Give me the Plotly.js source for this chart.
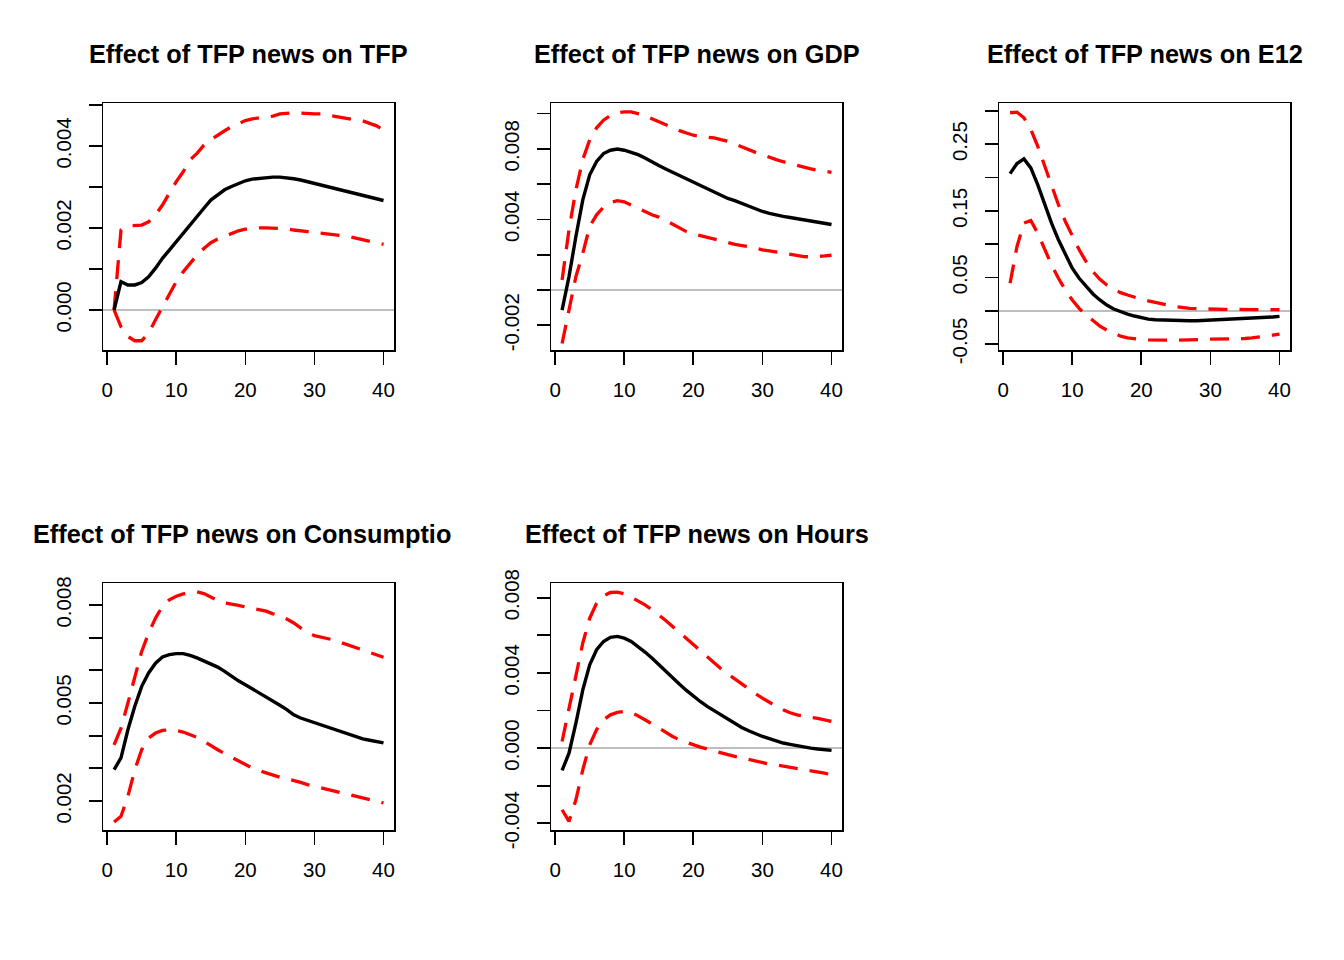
<!DOCTYPE html>
<html>
<head>
<meta charset="utf-8">
<script src="https://cdn.plot.ly/plotly-3.0.1.min.js"></script>
<style>html,body{margin:0;padding:0;background:#fff;}#chart{width:1344px;height:960px;}</style>
</head>
<body>
<div id="chart"></div>
<script>
// ---------------- DATA ----------------
const horizon = Array.from({length: 40}, (_, i) => i + 1);

const titles = [
  "Effect of TFP news on TFP",
  "Effect of TFP news on GDP",
  "Effect of TFP news on E12",
  "Effect of TFP news on Consumptio",
  "Effect of TFP news on Hours"
];

// TFP
const tfpMid = [0.0000,0.00069,0.00061,0.00061,0.00067,0.00081,0.00102,0.00126,0.00146,0.00167,
  0.00187,0.00207,0.00228,0.00248,0.00268,0.00280,0.00293,0.00301,0.00309,0.00315,
  0.00319,0.00321,0.00324,0.00324,0.00324,0.00323,0.00320,0.00317,0.00313,0.00307,
  0.00303,0.00299,0.00295,0.00291,0.00288,0.00285,0.00280,0.00276,0.00272,0.00267];
const tfpUpper = [0.0000,0.00195,0.00205,0.00205,0.00207,0.00215,0.00232,0.00256,0.00285,0.00313,
  0.00337,0.00366,0.00382,0.00402,0.00415,0.00427,0.00437,0.00447,0.00455,0.00462,
  0.00466,0.00468,0.00470,0.00473,0.00478,0.00480,0.00481,0.00480,0.00478,0.00478,
  0.00478,0.00476,0.00472,0.00469,0.00467,0.00465,0.00461,0.00455,0.00449,0.00439];
const tfpLower = [0.0000,-0.00041,-0.00065,-0.00075,-0.00075,-0.00057,-0.00024,0.00008,0.00041,0.00069,
  0.00093,0.00114,0.00134,0.00150,0.00164,0.00173,0.00180,0.00187,0.00193,0.00197,
  0.00199,0.00200,0.00200,0.00200,0.00199,0.00198,0.00195,0.00194,0.00191,0.00189,
  0.00187,0.00186,0.00184,0.00183,0.00179,0.00175,0.00171,0.00167,0.00163,0.00160];

// GDP
const gdpMid = [-0.00114,0.00076,0.00303,0.00511,0.00653,0.00729,0.00773,0.00792,0.00799,0.00792,
  0.00780,0.00767,0.00748,0.00725,0.00705,0.00686,0.00667,0.00648,0.00629,0.00610,
  0.00591,0.00572,0.00553,0.00536,0.00519,0.00506,0.00491,0.00473,0.00458,0.00445,
  0.00434,0.00424,0.00417,0.00411,0.00405,0.00398,0.00392,0.00384,0.00379,0.00371];
const gdpUpper = [0.00057,0.00341,0.00568,0.00739,0.00852,0.00919,0.00962,0.00989,0.01004,0.01009,
  0.01009,0.01000,0.00989,0.00970,0.00953,0.00934,0.00919,0.00903,0.00890,0.00877,
  0.00871,0.00867,0.00862,0.00852,0.00843,0.00828,0.00811,0.00795,0.00780,0.00767,
  0.00752,0.00739,0.00727,0.00716,0.00705,0.00695,0.00686,0.00678,0.00672,0.00667];
const gdpLower = [-0.00303,-0.00114,0.00076,0.00208,0.00360,0.00426,0.00470,0.00496,0.00506,0.00500,
  0.00483,0.00464,0.00445,0.00426,0.00413,0.00394,0.00373,0.00350,0.00331,0.00318,
  0.00309,0.00299,0.00290,0.00280,0.00269,0.00259,0.00254,0.00246,0.00237,0.00227,
  0.00222,0.00216,0.00210,0.00203,0.00195,0.00189,0.00188,0.00189,0.00193,0.00197];

// E12
const e12Mid = [0.2058,0.2209,0.2279,0.2144,0.1893,0.1591,0.1315,0.1064,0.0838,0.0638,
  0.0487,0.0361,0.0251,0.0161,0.0085,0.0025,-0.0015,-0.0050,-0.0080,-0.0105,
  -0.0126,-0.0136,-0.0141,-0.0146,-0.0146,-0.0151,-0.0151,-0.0151,-0.0146,-0.0146,
  -0.0141,-0.0141,-0.0136,-0.0131,-0.0126,-0.0120,-0.0110,-0.0105,-0.0095,-0.0085];
const e12Upper = [0.2972,0.2982,0.2897,0.2721,0.2470,0.2169,0.1867,0.1591,0.1340,0.1114,
  0.0914,0.0738,0.0587,0.0472,0.0387,0.0321,0.0271,0.0236,0.0201,0.0171,
  0.0146,0.0120,0.0100,0.0080,0.0060,0.0045,0.0035,0.0030,0.0025,0.0025,
  0.0020,0.0020,0.0020,0.0020,0.0020,0.0020,0.0020,0.0020,0.0015,0.0015];
const e12Lower = [0.0412,0.0964,0.1315,0.1355,0.1165,0.0914,0.0688,0.0487,0.0311,0.0161,
  0.0035,-0.0065,-0.0156,-0.0231,-0.0291,-0.0341,-0.0382,-0.0407,-0.0422,-0.0432,
  -0.0437,-0.0442,-0.0442,-0.0442,-0.0442,-0.0442,-0.0437,-0.0432,-0.0432,-0.0427,
  -0.0427,-0.0427,-0.0427,-0.0422,-0.0417,-0.0407,-0.0397,-0.0382,-0.0367,-0.0351];

// Consumption
const consMid = [0.00296,0.00332,0.00418,0.00490,0.00551,0.00592,0.00622,0.00641,0.00648,0.00651,
  0.00651,0.00646,0.00638,0.00628,0.00619,0.00610,0.00597,0.00582,0.00568,0.00556,
  0.00544,0.00531,0.00517,0.00505,0.00493,0.00480,0.00464,0.00454,0.00447,0.00439,
  0.00432,0.00424,0.00417,0.00411,0.00405,0.00396,0.00390,0.00386,0.00383,0.00378];
const consUpper = [0.00372,0.00423,0.00500,0.00582,0.00658,0.00714,0.00760,0.00796,0.00816,0.00827,
  0.00834,0.00837,0.00840,0.00835,0.00824,0.00814,0.00806,0.00803,0.00799,0.00794,
  0.00789,0.00786,0.00781,0.00773,0.00767,0.00757,0.00745,0.00730,0.00716,0.00706,
  0.00701,0.00698,0.00692,0.00684,0.00677,0.00670,0.00663,0.00656,0.00648,0.00640];
const consLower = [0.00136,0.00153,0.00214,0.00296,0.00357,0.00393,0.00408,0.00416,0.00418,0.00416,
  0.00411,0.00403,0.00395,0.00383,0.00369,0.00357,0.00345,0.00334,0.00321,0.00311,
  0.00301,0.00293,0.00286,0.00279,0.00273,0.00268,0.00263,0.00257,0.00250,0.00245,
  0.00240,0.00235,0.00230,0.00224,0.00219,0.00214,0.00209,0.00204,0.00199,0.00194];

// Hours
const hoursMid = [-0.00119,-0.00027,0.00133,0.00310,0.00443,0.00523,0.00567,0.00589,0.00594,0.00585,
  0.00567,0.00541,0.00511,0.00479,0.00443,0.00408,0.00372,0.00340,0.00307,0.00275,
  0.00248,0.00222,0.00199,0.00174,0.00151,0.00129,0.00110,0.00092,0.00076,0.00062,
  0.00050,0.00037,0.00027,0.00020,0.00012,0.00005,0.00000,-0.00005,-0.00009,-0.00012];
const hoursUpper = [0.00035,0.00204,0.00390,0.00559,0.00691,0.00771,0.00810,0.00828,0.00830,0.00821,
  0.00803,0.00784,0.00762,0.00736,0.00709,0.00679,0.00647,0.00615,0.00582,0.00550,
  0.00518,0.00484,0.00452,0.00422,0.00394,0.00367,0.00340,0.00314,0.00289,0.00266,
  0.00243,0.00222,0.00204,0.00188,0.00177,0.00168,0.00163,0.00158,0.00151,0.00142];
const hoursLower = [-0.00328,-0.00390,-0.00275,-0.00115,0.00018,0.00098,0.00151,0.00177,0.00190,0.00195,
  0.00191,0.00172,0.00151,0.00129,0.00106,0.00083,0.00062,0.00044,0.00030,0.00018,
  0.00005,-0.00005,-0.00016,-0.00027,-0.00035,-0.00044,-0.00053,-0.00062,-0.00071,-0.00080,
  -0.00085,-0.00090,-0.00096,-0.00101,-0.00106,-0.00112,-0.00117,-0.00124,-0.00133,-0.00142];

// tick values / labels
const xTickVals = [0, 10, 20, 30, 40];
const xTickText = ["0", "10", "20", "30", "40"];
const tfpTickVals = [0, 0.001, 0.002, 0.003, 0.004, 0.005];
const tfpTickText = ["0.000", "", "0.002", "", "0.004", ""];
const gdpTickVals = [-0.002, 0, 0.002, 0.004, 0.006, 0.008, 0.010];
const gdpTickText = ["-0.002", "", "", "0.004", "", "0.008", ""];
const e12TickVals = [-0.05, 0, 0.05, 0.10, 0.15, 0.20, 0.25, 0.30];
const e12TickText = ["-0.05", "", "0.05", "", "0.15", "", "0.25", ""];
const consTickVals = [0.002, 0.003, 0.004, 0.005, 0.006, 0.007, 0.008];
const consTickText = ["0.002", "", "", "0.005", "", "", "0.008"];
const hoursTickVals = [-0.004, -0.002, 0, 0.002, 0.004, 0.006, 0.008];
const hoursTickText = ["-0.004", "", "0.000", "", "0.004", "", "0.008"];

// ---------------- PLOT ----------------
const W = 1344, H = 960;
const FONT = "Liberation Sans, Arial, Helvetica, sans-serif";

const panels = [
  {mid: tfpMid, up: tfpUpper, lo: tfpLower, tv: tfpTickVals, tt: tfpTickText, yr: [-0.000976, 0.00504], col: 0, row: 0},
  {mid: gdpMid, up: gdpUpper, lo: gdpLower, tv: gdpTickVals, tt: gdpTickText, yr: [-0.0034, 0.01058], col: 1, row: 0},
  {mid: e12Mid, up: e12Upper, lo: e12Lower, tv: e12TickVals, tt: e12TickText, yr: [-0.059, 0.3114], col: 2, row: 0},
  {mid: consMid, up: consUpper, lo: consLower, tv: consTickVals, tt: consTickText, yr: [0.001113, 0.008664], col: 0, row: 1},
  {mid: hoursMid, up: hoursUpper, lo: hoursLower, tv: hoursTickVals, tt: hoursTickText, yr: [-0.004356, 0.008766], col: 1, row: 1}
];

const colLeft = [103.3, 551.3, 999.3];
const plotW = 291;
const rowTop = [103.3, 583.3];
const plotH = 246.7;

const traces = [];
const layout = {
  width: W, height: H, autosize: false,
  margin: {l: 0, r: 0, t: 0, b: 0, pad: 0},
  paper_bgcolor: "#ffffff", plot_bgcolor: "#ffffff",
  showlegend: false,
  font: {family: FONT, color: "#000000", size: 20.5},
  annotations: []
};

panels.forEach((p, i) => {
  const n = i + 1;
  const xa = n === 1 ? "x" : "x" + n;
  const ya = n === 1 ? "y" : "y" + n;
  const common = {x: horizon, xaxis: xa, yaxis: ya, mode: "lines", hoverinfo: "skip"};
  traces.push(Object.assign({}, common, {y: p.up, line: {color: "#FF0000", width: 3.3, dash: "19px,12px"}}));
  traces.push(Object.assign({}, common, {y: p.lo, line: {color: "#FF0000", width: 3.3, dash: "19px,12px"}}));
  traces.push(Object.assign({}, common, {y: p.mid, line: {color: "#000000", width: 3.4}}));

  const x0 = colLeft[p.col] / W, x1 = (colLeft[p.col] + plotW) / W;
  const y1 = 1 - rowTop[p.row] / H, y0 = 1 - (rowTop[p.row] + plotH) / H;
  const axBase = {
    showline: true, mirror: true, linecolor: "#000000", linewidth: 1.7,
    showgrid: false, ticks: "outside", ticklen: 13, tickwidth: 1.7, tickcolor: "#000000",
    tickfont: {family: FONT, size: 20.5, color: "#000000"}, fixedrange: true
  };
  layout["xaxis" + (n === 1 ? "" : n)] = Object.assign({}, axBase, {
    domain: [x0, x1], anchor: ya, range: [-0.56, 41.56],
    tickmode: "array", tickvals: xTickVals, ticktext: xTickText,
    zeroline: false, ticklabelstandoff: 8
  });
  layout["yaxis" + (n === 1 ? "" : n)] = Object.assign({}, axBase, {
    domain: [y0, y1], anchor: xa, range: p.yr,
    tickmode: "array", tickvals: p.tv, ticktext: p.tt, tickangle: -90,
    zeroline: true, zerolinecolor: "#BEBEBE", zerolinewidth: 1.7, ticklabelstandoff: 9
  });

  const cx = (colLeft[p.col] + plotW / 2) / W;
  const cy = 1 - (53.5 + 480 * p.row) / H;
  const ann = {
    text: "<b>" + titles[i] + "</b>", xref: "paper", yref: "paper",
    x: cx, y: cy, xanchor: "center", yanchor: "middle", showarrow: false,
    font: {family: FONT, size: 25.3, color: "#000000"}
  };
  if (i === 3) { ann.x = 31 / W; ann.xanchor = "left"; }
  layout.annotations.push(ann);
});

Plotly.newPlot("chart", traces, layout, {staticPlot: true, displayModeBar: false});
</script>
</body>
</html>
